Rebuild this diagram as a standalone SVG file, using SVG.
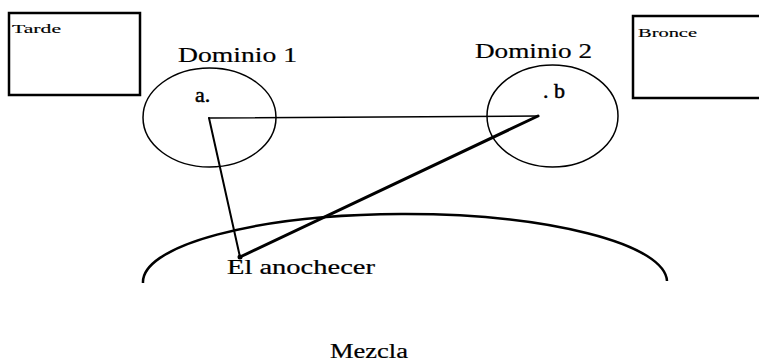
<svg xmlns="http://www.w3.org/2000/svg" width="759" height="362" viewBox="0 0 759 362">
<style>
.box{fill:none;stroke:#000;stroke-width:2.5}
.ell{fill:none;stroke:#000;stroke-width:1.5}
.t{font-family:"Liberation Serif","DejaVu Serif",serif;fill:#000;stroke:#000;stroke-width:0.2}
.sm{font-size:13px;stroke-width:0.15}
.lg{font-size:22px}
.md{font-size:20px}
.pt{font-size:22px;stroke-width:0.5}
</style>
<rect width="759" height="362" fill="#fff"/>
<g id="tarde">
<rect class="box" x="9" y="13" width="131" height="82"/>
<text class="t sm" x="12" y="33" textLength="49" lengthAdjust="spacingAndGlyphs">Tarde</text>
</g>
<g id="bronce">
<rect class="box" x="633" y="16" width="140" height="82"/>
<text class="t sm" x="638" y="37" textLength="59" lengthAdjust="spacingAndGlyphs">Bronce</text>
</g>
<g id="dominio1">
<ellipse class="ell" cx="209.5" cy="117.5" rx="66.5" ry="49.5"/>
<text class="t lg" x="178" y="62" textLength="119" lengthAdjust="spacingAndGlyphs">Dominio 1</text>
<text class="t pt" x="195" y="102">a.</text>
</g>
<g id="dominio2">
<ellipse class="ell" cx="552.5" cy="116" rx="65.5" ry="51"/>
<text class="t lg" x="475" y="58" textLength="117" lengthAdjust="spacingAndGlyphs">Dominio 2</text>
<text class="t pt" x="543" y="98">. b</text>
</g>
<g id="mezcla">
<path d="M143,283 A262,68 0 0 1 667,281" fill="none" stroke="#000" stroke-width="2.5"/>
<text class="t md" x="227" y="274" textLength="148" lengthAdjust="spacingAndGlyphs">El anochecer</text>
<text class="t md" x="330" y="358" textLength="78" lengthAdjust="spacingAndGlyphs">Mezcla</text>
</g>
<g id="connectors" fill="none" stroke="#000" stroke-linecap="round">
<line x1="209" y1="118" x2="538" y2="116" stroke-width="1.5"/>
<line x1="209" y1="118" x2="240" y2="257" stroke-width="2"/>
<line x1="538" y1="116" x2="240" y2="257" stroke-width="3"/>
<circle cx="240" cy="257" r="2.5" fill="#000" stroke="none"/>
</g>
</svg>
